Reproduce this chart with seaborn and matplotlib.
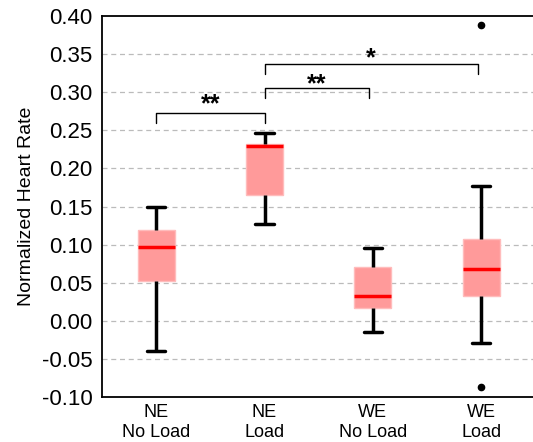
import matplotlib
matplotlib.use("Agg")
import matplotlib.pyplot as plt
import seaborn as sns
import pandas as pd

# Data
categories = ["NE\nNo Load", "NE\nLoad", "WE\nNo Load", "WE\nLoad"]
ne_noload = [-0.040, 0.052, 0.097, 0.119, 0.150]
ne_load = [0.127, 0.165, 0.229, 0.232, 0.247]
we_noload = [-0.015, 0.017, 0.032, 0.070, 0.096]
we_load = [-0.0865, -0.029, 0.0325, 0.0325, 0.068, 0.107, 0.107, 0.177, 0.388]
yticks = [-0.10, -0.05, 0.00, 0.05, 0.10, 0.15, 0.20, 0.25, 0.30, 0.35, 0.40]
# significance brackets: (x1, x2, bracket y, star y, label)
brackets = [(0, 1, 0.273, 0.2885, "**"),
            (1, 1.96, 0.305, 0.315, "**"),
            (1, 2.97, 0.337, 0.349, "*")]

groups = [ne_noload, ne_load, we_noload, we_load]
df = pd.DataFrame({
    "cond": [c for c, g in zip(categories, groups) for _ in g],
    "val": [v for g in groups for v in g],
})

sns.set_style("white")
plt.rcParams["font.family"] = ["Liberation Sans", "DejaVu Sans"]
plt.rcParams["text.color"] = "black"
plt.rcParams["axes.labelcolor"] = "black"
plt.rcParams["xtick.color"] = "black"
plt.rcParams["ytick.color"] = "black"

fig = plt.figure(figsize=(5.33, 4.42), dpi=100)
ax = fig.add_axes([0.1914, 0.1018, 0.813, 0.862])

for y in yticks[1:-1]:
    ax.axhline(y, color="#bbbbbb", lw=0.9, ls=(0, (4, 3)), zorder=0)

sns.boxplot(
    data=df, x="cond", y="val", order=categories, ax=ax,
    width=0.34, whis=1.5, fliersize=4.5,
    boxprops=dict(facecolor="#ff9a9a", edgecolor="#ffbcbc", linewidth=1, zorder=2),
    medianprops=dict(color="#ff0000", linewidth=2.5, zorder=3),
    whiskerprops=dict(color="black", linewidth=2.5),
    capprops=dict(color="black", linewidth=2.5),
    flierprops=dict(marker="o", markerfacecolor="black", markeredgecolor="black",
                    markersize=4.5),
)

h = 0.013
for x1, x2, y, ty, lab in brackets:
    ax.plot([x1, x1, x2, x2], [y - h, y, y, y - h], color="black", lw=1)
    ax.text((x1 + x2) / 2, ty - 0.02, lab, ha="center", va="bottom",
            fontsize=18, fontweight="bold", color="black")

ax.set_xlim(-0.5, 3.5)
ax.set_ylim(-0.10, 0.40)
ax.set_yticks(yticks)
ax.set_yticklabels([f"{v:.2f}" for v in yticks], fontsize=16, color="black")
ax.tick_params(axis="y", direction="out", length=5, width=1, color="black", pad=2)
ax.tick_params(axis="x", length=0, labelsize=13, pad=5, labelcolor="black")
ax.set_xlabel("")
ax.set_ylabel("Normalized Heart Rate", fontsize=14, labelpad=5, color="black")
for s in ["left", "bottom", "top"]:
    ax.spines[s].set_color("black")
    ax.spines[s].set_linewidth(1.3)
ax.spines["right"].set_visible(False)

fig.savefig("out.png", dpi=100)
